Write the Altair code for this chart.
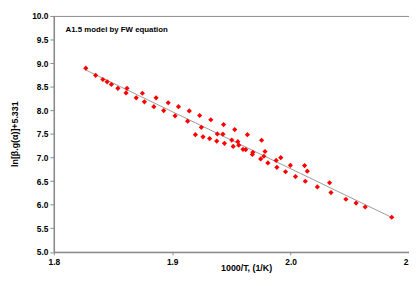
import altair as alt
import pandas as pd

inv_t = [1.8270, 1.8353, 1.8414, 1.8450, 1.8486, 1.8541, 1.8610, 1.8618, 1.8696, 1.8748,
         1.8765, 1.8845, 1.8864, 1.8928, 1.8966, 1.9024, 1.9053, 1.9144, 1.9130, 1.9232,
         1.9246, 1.9326, 1.9196, 1.9260, 1.9316, 1.9381, 1.9376, 1.9434, 1.9428, 1.9441,
         1.9528, 1.9503, 1.9554, 1.9515, 1.9562, 1.9598, 1.9621, 1.9635, 1.9681, 1.9677,
         1.9755, 1.9747, 1.9774, 1.9784, 1.9808, 1.9878, 1.9917, 1.9884, 1.9957, 1.9998,
         2.0041, 2.0118, 2.0141, 2.0124, 2.0226, 2.0329, 2.0341, 2.0467, 2.0553, 2.0630,
         2.0854]
ln_val = [8.894, 8.742, 8.653, 8.603, 8.549, 8.466, 8.368, 8.466, 8.264, 8.362,
          8.181, 8.077, 8.264, 7.994, 8.160, 7.884, 8.077, 7.988, 7.771, 7.890,
          7.640, 7.800, 7.484, 7.439, 7.401, 7.501, 7.349, 7.699, 7.495, 7.301,
          7.593, 7.370, 7.335, 7.235, 7.262, 7.173, 7.168, 7.484, 7.110, 7.064,
          7.366, 6.971, 7.027, 7.127, 6.886, 6.938, 6.996, 6.792, 6.699, 6.834,
          6.597, 6.830, 6.711, 6.497, 6.378, 6.466, 6.258, 6.116, 6.035, 5.952,
          5.734]
x_ticks = [1.8, 1.9, 2.0, 2.1]
y_ticks = [5.0, 5.5, 6.0, 6.5, 7.0, 7.5, 8.0, 8.5, 9.0, 9.5, 10.0]
note = "A1.5 model by FW equation"

df = pd.DataFrame({"x": inv_t, "y": ln_val})

FONT = "Liberation Sans"
GRAY = "#8a8a8a"

xenc = alt.X("x:Q", scale=alt.Scale(domain=[1.8, 2.1], nice=False, zero=False),
             axis=alt.Axis(values=x_ticks, format=".1f", title="1000/T, (1/K)",
                           titleX=196, titleY=16, titleBaseline="middle", titleAlign="center",
                           tickSize=3, labelPadding=3, labelFlush=False, labelOverlap=False))
yenc = alt.Y("y:Q", scale=alt.Scale(domain=[5, 10], nice=False, zero=False),
             axis=alt.Axis(values=y_ticks, format=".1f", title="ln[β.g(α)]+5.331",
                           titleX=-40.5, titleY=120, titleBaseline="middle", titleAlign="center",
                           tickSize=4, labelPadding=2, labelOverlap=False, labelFlush=False,
                           labelBound=False))

base = alt.Chart(df).encode(x=xenc, y=yenc)

trend = base.transform_regression("x", "y").mark_line(color="#9a9a9a", strokeWidth=1)

pts = base.mark_point(shape="diamond", filled=True, size=28, color="#ff0000", opacity=1)

label = alt.Chart(pd.DataFrame({"t": [note]})).mark_text(
    align="left", baseline="middle", font=FONT, fontSize=8, fontWeight="bold", color="#000000"
).encode(x=alt.value(12), y=alt.value(14.5), text="t:N")

chart = alt.layer(trend, pts, label).properties(
    width=362, height=240.5,
    autosize=alt.AutoSizeParams(type="none"),
    padding={"left": 46.7, "top": 5.5, "right": 0, "bottom": 24},
).configure_view(stroke=GRAY, strokeWidth=1).configure_axis(
    grid=False, domainColor=GRAY, domainWidth=1.5, tickColor=GRAY, tickWidth=1,
    labelFont=FONT, labelFontSize=8.5, labelFontWeight="bold", labelColor="#000000",
    titleFont=FONT, titleFontSize=9, titleFontWeight="bold", titleColor="#000000",
)

chart.save("out.html", embed_options={"renderer": "svg", "actions": False})
